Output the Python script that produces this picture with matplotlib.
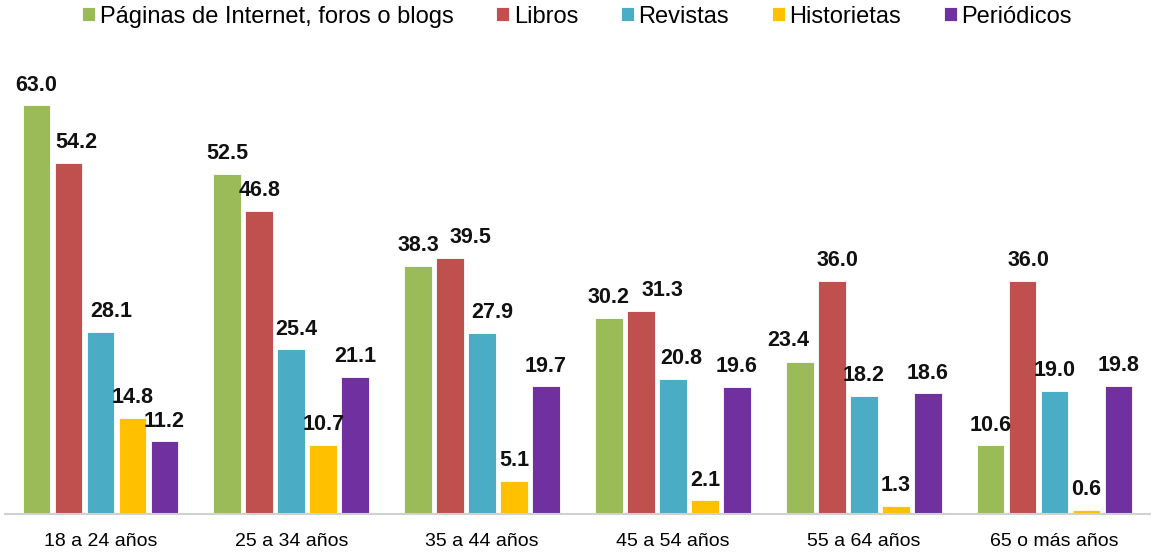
import numpy as np
import matplotlib.pyplot as plt

plt.rcParams['font.family'] = ['Liberation Sans', 'DejaVu Sans']

groups = ['18 a 24 años', '25 a 34 años', '35 a 44 años', '45 a 54 años', '55 a 64 años', '65 o más años']
series = ['Páginas de Internet, foros o blogs', 'Libros', 'Revistas', 'Historietas', 'Periódicos']
paginas = [63.0, 52.5, 38.3, 30.2, 23.4, 10.6]
libros = [54.2, 46.8, 39.5, 31.3, 36.0, 36.0]
revistas = [28.1, 25.4, 27.9, 20.8, 18.2, 19.0]
historietas = [14.8, 10.7, 5.1, 2.1, 1.3, 0.6]
periodicos = [11.2, 21.1, 19.7, 19.6, 18.6, 19.8]
colors = ['#9BBB59', '#C0504D', '#4BACC6', '#FFC000', '#7030A0']

values = [paginas, libros, revistas, historietas, periodicos]

# label nudges in pixels (series, group) -> (dx, dy), as moved by hand in the original
nudge = {
    (1, 0): (8, 0), (2, 0): (11, 0), (2, 1): (5, 0),
    (1, 2): (20, 0), (2, 2): (10, 0),
    (1, 3): (22, 0), (2, 3): (8, 0),
    (0, 4): (-12, 2), (1, 4): (6, 0), (1, 5): (6, 0),
}

fig = plt.figure(figsize=(11.54, 5.54), dpi=100)
ax = fig.add_axes([5 / 1154, 40 / 554, 1145 / 1154, 474 / 554])

x = np.arange(len(groups))
step = 0.1675
width = 0.145
for i, (name, vals, col) in enumerate(zip(series, values, colors)):
    pos = x + (i - 2) * step
    ax.bar(pos, vals, width=width, color=col, edgecolor='white', linewidth=0.6, label=name)
    for j, (p, v) in enumerate(zip(pos, vals)):
        dx, dy = nudge.get((i, j), (0, 0))
        ax.annotate(f'{v:.1f}', (p, v), xytext=(dx * 0.72, 7 + dy * 0.72), textcoords='offset points',
                    ha='center', va='bottom', fontsize=15.5, fontweight='bold', color='#111111')

ax.set_xlim(-0.5, len(groups) - 0.5)
ax.set_ylim(0, 73.1)
ax.set_xticks(x)
ax.set_xticklabels(groups, fontsize=14)
ax.tick_params(axis='x', length=0, pad=14)
ax.set_yticks([])
for s in ['top', 'right', 'left']:
    ax.spines[s].set_visible(False)
ax.spines['bottom'].set_color('#d0d0d0')
ax.spines['bottom'].set_linewidth(1.5)

fig.legend(loc='upper center', bbox_to_anchor=(0.5, 1.028), ncol=5, frameon=False,
           fontsize=17, handlelength=0.55, handleheight=0.55, handletextpad=0.2,
           columnspacing=1.8)

fig.savefig('out.png', dpi=100)
